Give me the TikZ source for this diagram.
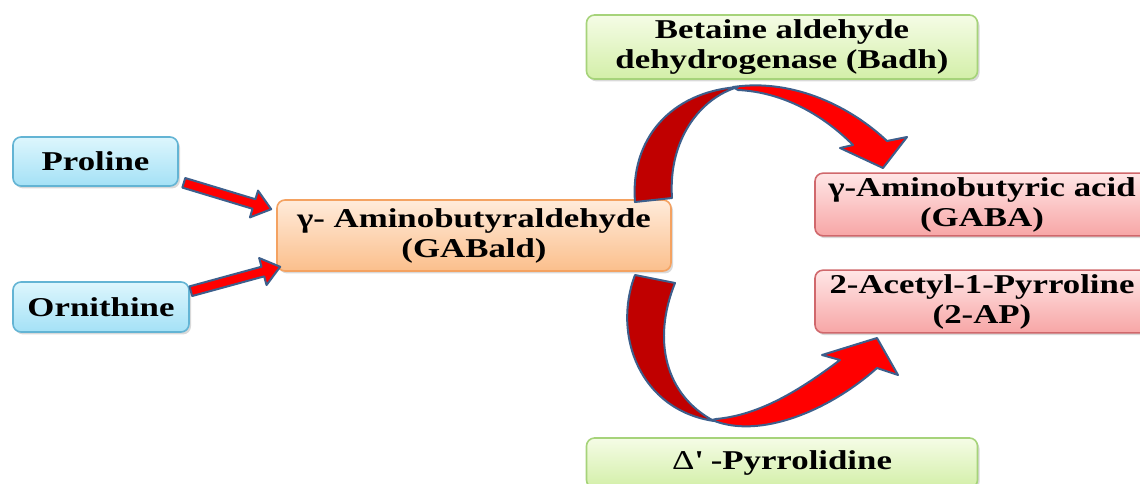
\documentclass[tikz,border=0pt]{standalone}
\usepackage{fontspec}
\newfontfamily\boxfont[FakeStretch=1.28]{Liberation Serif}
\usepackage{tikz}
\usetikzlibrary{calc}
\usetikzlibrary{shadows}
\usepackage{xcolor}
\definecolor{bluetop}{HTML}{DDF6FD}
\definecolor{bluebot}{HTML}{A4E1F6}
\definecolor{blueline}{HTML}{63B4D4}
\definecolor{orangetop}{HTML}{FFEBDA}
\definecolor{orangebot}{HTML}{FBBF8C}
\definecolor{orangeline}{HTML}{F4A261}
\definecolor{greentop}{HTML}{F5FCE6}
\definecolor{greenbot}{HTML}{D3EFA8}
\definecolor{greenline}{HTML}{A6D37A}
\definecolor{pinktop}{HTML}{FFE6E6}
\definecolor{pinkbot}{HTML}{F7A6A6}
\definecolor{pinkline}{HTML}{D0686C}
\definecolor{arrowred}{HTML}{FF0000}
\definecolor{arrowdark}{HTML}{C00000}
\definecolor{arrowline}{HTML}{3D5F8C}

\tikzset{
	box/.style={rounded corners=4pt, line width=0.8pt, align=center, inner sep=2pt,
		font=\boxfont\bfseries\fontsize{13.6}{15}\selectfont,
		drop shadow={shadow xshift=1pt, shadow yshift=-1.2pt, opacity=.3}},
	bluebox/.style={box, draw=blueline, top color=bluetop, bottom color=bluebot},
	orangebox/.style={box, draw=orangeline, top color=orangetop, bottom color=orangebot},
	greenbox/.style={box, draw=greenline, top color=greentop, bottom color=greenbot},
	pinkbox/.style={box, draw=pinkline, top color=pinktop, bottom color=pinkbot},
	bandarrow/.style={draw=arrowline, line width=1pt, line join=round},
	fatarrow/.style={bandarrow, fill=arrowred,
		to path={($(\tikztostart)!2.5pt!90:(\tikztotarget)$)
			-- ($(\tikztotarget)!9pt!(\tikztostart)!2.5pt!90:(\tikztotarget)$)
			-- ($(\tikztotarget)!9pt!(\tikztostart)!7pt!90:(\tikztotarget)$)
			-- (\tikztotarget)
			-- ($(\tikztotarget)!9pt!(\tikztostart)!7pt!-90:(\tikztotarget)$)
			-- ($(\tikztotarget)!9pt!(\tikztostart)!2.5pt!-90:(\tikztotarget)$)
			-- ($(\tikztostart)!2.5pt!-90:(\tikztotarget)$) -- cycle}}
}

\begin{document}
\begin{tikzpicture}[x=0.5pt, y=-0.5pt]
	\useasboundingbox (0,0) rectangle (1140,483);
	\node[bluebox, minimum width=82.5pt, minimum height=24.5pt] (pro) at (95.5,161.5) {Proline};
	\node[bluebox, minimum width=88pt, minimum height=25pt] (orn) at (101,307) {Ornithine};
	\node[orangebox, minimum width=197pt, minimum height=35.5pt] (ald) at (474,235.5) {γ- Aminobutyraldehyde\\(GABald)};
	\node[greenbox, minimum width=195.5pt, minimum height=32pt] (badh) at (782,47) {Betaine aldehyde\\dehydrogenase (Badh)};
	\node[pinkbox, minimum width=167pt, minimum height=31pt] (gaba) at (982,204.5) {γ-Aminobutyric acid\\(GABA)};
	\node[pinkbox, minimum width=167pt, minimum height=30.5pt] (ap) at (982,301.5) {2-Acetyl-1-Pyrroline\\(2-AP)};
	\node[greenbox, minimum width=195.5pt, minimum height=25pt] (pyr) at (782,463) {{\mdseries Δ}\textquotesingle\ -Pyrrolidine};

	\coordinate (proT) at ($(pro.south east)+(5,-4)$);
	\coordinate (aldP) at ($(ald.north west)+(-5,10)$);
	\coordinate (ornT) at ($(orn.north east)+(1,10)$);
	\coordinate (aldO) at ($(ald.south west)+(4,-5)$);
	\draw[fatarrow] (proT) to (aldP);
	\draw[fatarrow] (ornT) to (aldO);

	\draw[bandarrow, fill=arrowred] (733,87) .. controls (795,78) and (852,108) .. (887,141) -- (907,137) -- (883,168) -- (840,148) -- (853,145) .. controls (820,112) and (780,92) .. (738,90) -- cycle;
	\draw[bandarrow, fill=arrowdark] (635,202) .. controls (630,140) and (670,92) .. (738,87) .. controls (700,98) and (668,140) .. (672,198) -- cycle;

	\draw[bandarrow, fill=arrowred] (712,420) .. controls (760,440) and (830,410) .. (877,368) -- (898,375) -- (877,338) -- (822,355) -- (840,360) .. controls (800,390) and (760,415) .. (716,419) -- cycle;
	\draw[bandarrow, fill=arrowdark] (635,275) .. controls (612,335) and (640,410) .. (714,421) .. controls (665,395) and (652,340) .. (675,283) -- cycle;
\end{tikzpicture}
\end{document}
